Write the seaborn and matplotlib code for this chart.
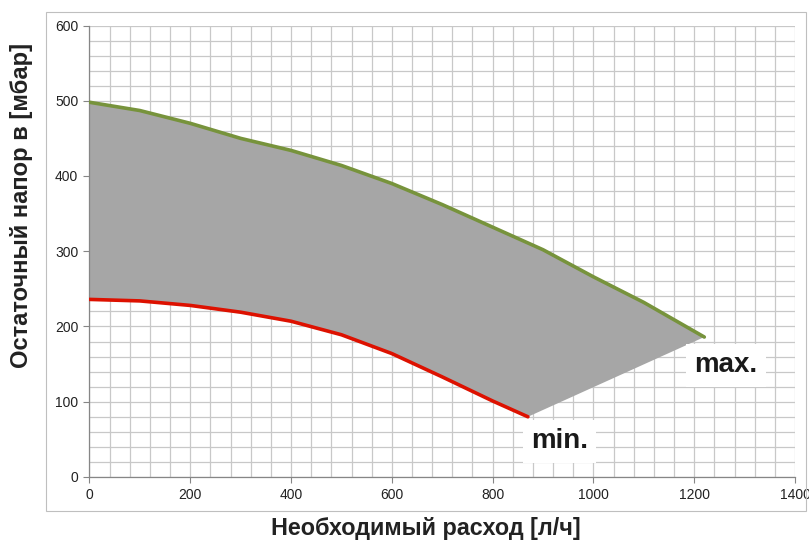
import matplotlib
matplotlib.use("Agg")
import matplotlib.pyplot as plt
from matplotlib.patches import Rectangle
from matplotlib.ticker import MultipleLocator
import seaborn as sns
import pandas as pd

# Curve data
flow_max = [0, 100, 200, 300, 400, 500, 600, 700, 800, 900, 1000, 1100, 1220]
head_max = [498, 487, 470, 450, 434, 414, 390, 362, 332, 302, 266, 232, 186]

flow_min = [0, 100, 200, 300, 400, 500, 600, 700, 800, 870]
head_min = [236, 234, 228, 219, 207, 189, 164, 133, 101, 80]

x_label = "Необходимый расход [л/ч]"
y_label = "Остаточный напор в [мбар]"
label_max = "max."
label_min = "min."

sns.set_style("white")
plt.rcParams['font.family'] = ['Liberation Sans', 'DejaVu Sans']

fig = plt.figure(figsize=(8.09, 5.45), dpi=100)
ax = fig.add_axes([0.1106, 0.1248, 0.9827 - 0.1106, 0.9532 - 0.1248])

# outer chart-area frame
fig.patches.append(Rectangle((46 / 809, 1 - 511 / 545), 760 / 809, 499 / 545,
                             transform=fig.transFigure, fill=False,
                             edgecolor='#BFBFBF', linewidth=0.8, zorder=0))

# grey operating area between the curves
poly_x = flow_max + flow_min[::-1]
poly_y = head_max + head_min[::-1]
ax.fill(poly_x, poly_y, color='#A6A6A6', linewidth=0, zorder=2)

df_max = pd.DataFrame({'flow': flow_max, 'head': head_max})
df_min = pd.DataFrame({'flow': flow_min, 'head': head_min})
sns.lineplot(data=df_max, x='flow', y='head', ax=ax, color='#77933C', linewidth=2.6, zorder=3)
sns.lineplot(data=df_min, x='flow', y='head', ax=ax, color='#DD1100', linewidth=2.6, zorder=3)

ax.text(1263, 139, label_max, ha='center', va='baseline', fontsize=20, fontweight='bold',
        color='#1a1a1a', zorder=4,
        bbox=dict(facecolor='white', edgecolor='none', pad=6))
ax.text(933, 38, label_min, ha='center', va='baseline', fontsize=20, fontweight='bold',
        color='#1a1a1a', zorder=4,
        bbox=dict(facecolor='white', edgecolor='none', pad=6))

ax.set_xlim(0, 1400)
ax.set_ylim(0, 600)
ax.xaxis.set_major_locator(MultipleLocator(200))
ax.xaxis.set_minor_locator(MultipleLocator(40))
ax.yaxis.set_major_locator(MultipleLocator(100))
ax.yaxis.set_minor_locator(MultipleLocator(20))
ax.grid(which='both', color='#C8C8C8', linewidth=0.9, zorder=0)
ax.set_axisbelow(True)

for side in ['top', 'right']:
    ax.spines[side].set_visible(False)
for side in ['left', 'bottom']:
    ax.spines[side].set_color('#868686')
    ax.spines[side].set_linewidth(0.9)

ax.tick_params(which='major', direction='out', length=4, width=0.8, color='#868686',
               labelsize=10, labelcolor='#222222', left=True, bottom=True, pad=4)
ax.tick_params(which='minor', length=0)

ax.set_xlabel("")
ax.set_ylabel("")
fig.text(426 / 809, 1 - 528 / 545, x_label, ha='center', va='center',
         fontsize=16.8, fontweight='bold', color='#222222')
fig.text(22 / 809, 1 - 205 / 545, y_label, ha='center', va='center', rotation=90,
         fontsize=17.1, fontweight='bold', color='#222222')

fig.savefig("out.png", dpi=100)
